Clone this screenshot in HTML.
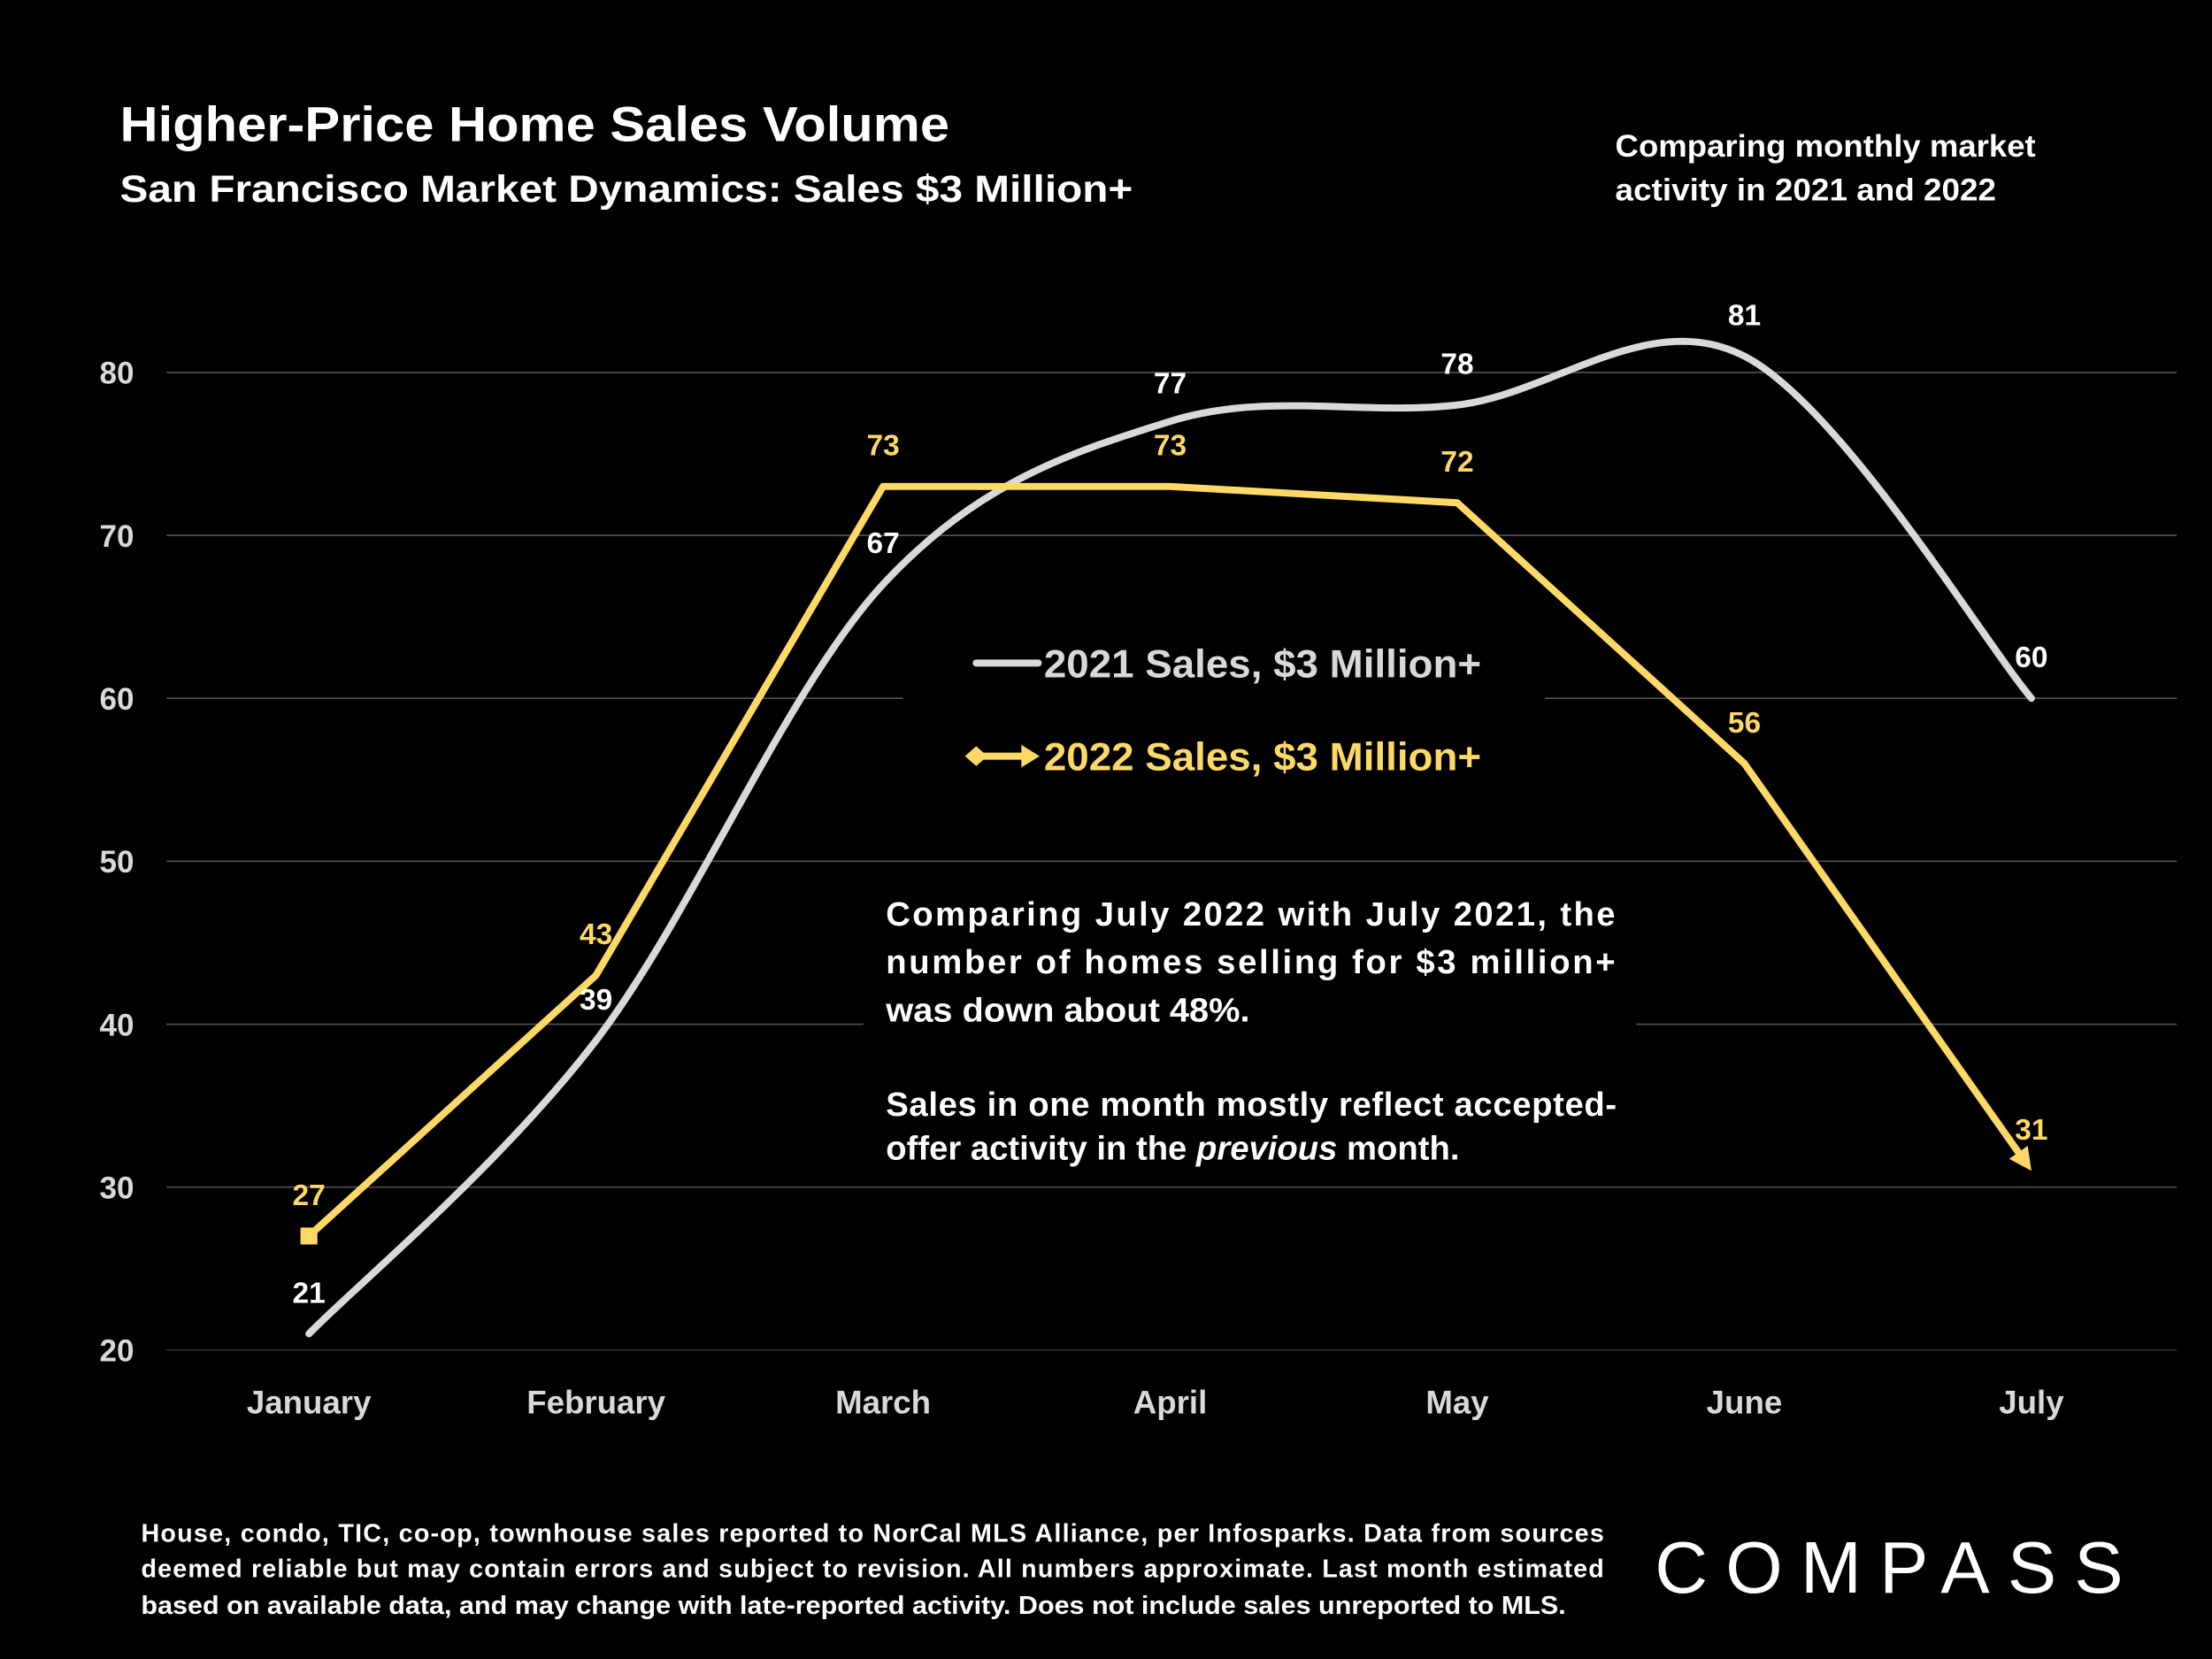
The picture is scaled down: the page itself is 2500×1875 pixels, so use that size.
<!DOCTYPE html>
<html><head><meta charset="utf-8"><style>
html,body{margin:0;padding:0;background:#000;}
svg{display:block;font-family:"Liberation Sans",Arial,sans-serif;}
</style></head><body>
<svg id="chart" width="2500" height="1875" viewBox="0 0 1568 1176" xmlns="http://www.w3.org/2000/svg">
<rect width="1568" height="1176" fill="#000"/>
<text x="85" y="100" fill="#fff" font-size="35" font-weight="bold" textLength="588" lengthAdjust="spacingAndGlyphs">Higher-Price Home Sales Volume</text>
<text x="85" y="143" fill="#fff" font-size="27" font-weight="bold" textLength="718" lengthAdjust="spacingAndGlyphs">San Francisco Market Dynamics: Sales $3 Million+</text>
<text fill="#fff" font-size="22" font-weight="bold"><tspan x="1145" y="111" textLength="298" lengthAdjust="spacingAndGlyphs">Comparing monthly market</tspan><tspan x="1145" y="142" textLength="270" lengthAdjust="spacingAndGlyphs">activity in 2021 and 2022</tspan></text>
<g id="grid"></g>
<g id="yticks"></g>
<g id="xticks"></g>
<g id="series"></g>
<g id="labels"></g>
<rect x="640" y="440" width="455" height="125" fill="#000"/>
<g>
<line x1="692" y1="470" x2="736" y2="470" stroke="#d9d9d9" stroke-width="5" stroke-linecap="round"/>
<text x="740" y="480" fill="#d9d9d9" font-size="28" font-weight="bold" textLength="310" lengthAdjust="spacingAndGlyphs">2021 Sales, $3 Million+</text>
</g>
<g>
<line x1="692" y1="536" x2="728" y2="536" stroke="#ffd966" stroke-width="5"/>
<polygon points="684,536 692,529 700,536 692,543" fill="#ffd966"/>
<polygon points="724,528 737,536 724,544" fill="#ffd966"/>
<text x="740" y="546" fill="#ffd966" font-size="28" font-weight="bold" textLength="310" lengthAdjust="spacingAndGlyphs">2022 Sales, $3 Million+</text>
</g>
<rect x="612" y="625" width="548" height="210" fill="#000"/>
<text fill="#fff" font-size="24" font-weight="bold">
<tspan x="628" y="656" textLength="517" lengthAdjust="spacing">Comparing July 2022 with July 2021, the</tspan>
<tspan x="628" y="690" textLength="517" lengthAdjust="spacing">number of homes selling for $3 million+</tspan>
<tspan x="628" y="724" textLength="258" lengthAdjust="spacingAndGlyphs">was down about 48%.</tspan>
<tspan x="628" y="791" textLength="518" lengthAdjust="spacing">Sales in one month mostly reflect accepted-</tspan>
<tspan x="628" y="822">offer activity in the <tspan font-style="italic">previous</tspan> month.</tspan>
</text>
<text fill="#fff" font-size="18" font-weight="bold">
<tspan x="100" y="1093" textLength="1037" lengthAdjust="spacing">House, condo, TIC, co-op, townhouse sales reported to NorCal MLS Alliance, per Infosparks. Data from sources</tspan>
<tspan x="100" y="1118" textLength="1037" lengthAdjust="spacing">deemed reliable but may contain errors and subject to revision. All numbers approximate. Last month estimated</tspan>
<tspan x="100" y="1144" textLength="1010" lengthAdjust="spacingAndGlyphs">based on available data, and may change with late-reported activity. Does not include sales unreported to MLS.</tspan>
</text>
<text x="1173" y="1129" fill="#fff" font-size="52" textLength="332" lengthAdjust="spacing">COMPASS</text>
</svg>
<script>
const months = ["January","February","March","April","May","June","July"];
const sales2021 = [21,39,67,77,78,81,60];
const sales2022 = [27,43,73,73,72,56,31];
const yTicks = [20,30,40,50,60,70,80];
const NS="http://www.w3.org/2000/svg";
const x0=219, xStep=(1440-219)/6, yBase=957, yPer=(957-264)/60;
function xs(i){return x0+i*xStep;}
function ys(v){return yBase-(v-20)*yPer;}
function mk(tag,attrs,parent){const e=document.createElementNS(NS,tag);for(const k in attrs)e.setAttribute(k,attrs[k]);parent.appendChild(e);return e;}
const grid=document.getElementById('grid'),yt=document.getElementById('yticks'),xt=document.getElementById('xticks'),ser=document.getElementById('series'),lab=document.getElementById('labels');
yTicks.forEach(v=>{
  const l=mk('line',{x1:118,x2:1543,y1:ys(v),y2:ys(v),stroke:v===20?'#333':'#555','stroke-width':1},grid);
  
  
  const t=mk('text',{x:95,y:ys(v)+8,'text-anchor':'end',fill:'#d9d9d9','font-size':22,'font-weight':'bold'},yt);
  t.textContent=v;
  
  
});
months.forEach((m,i)=>{
  const t=mk('text',{x:xs(i),y:1002,'text-anchor':'middle',fill:'#d9d9d9','font-size':23,'font-weight':'bold'},xt);
  t.textContent=m;
  
  
});
const p=sales2021.map((v,i)=>[xs(i),ys(v)]);
let d=`M${p[0][0]},${p[0][1]}`;
for(let i=0;i<p.length-1;i++){
  const a=p[Math.max(i-1,0)],b=p[i],c=p[i+1],e=p[Math.min(i+2,p.length-1)];
  const c1=[b[0]+(c[0]-a[0])/6,b[1]+(c[1]-a[1])/6],c2=[c[0]-(e[0]-b[0])/6,c[1]-(e[1]-b[1])/6];
  d+=` C${c1[0]},${c1[1]} ${c2[0]},${c2[1]} ${c[0]},${c[1]}`;
}
const l1=mk('path',{d:d,fill:'none',stroke:'#d9d9d9','stroke-width':5,'stroke-linecap':'round'},ser);


const p2=sales2022.map((v,i)=>[xs(i),ys(v)]);
const n=p2.length-1;
const dx=p2[n][0]-p2[n-1][0],dy=p2[n][1]-p2[n-1][1],len=Math.hypot(dx,dy),ux=dx/len,uy=dy/len;
const endPt=[p2[n][0]-ux*12,p2[n][1]-uy*12];
const pts=p2.slice(0,n).map(q=>q.join(',')).concat([endPt.join(',')]).join(' ');
const l2=mk('polyline',{points:pts,fill:'none',stroke:'#ffd966','stroke-width':5,'stroke-linejoin':'round'},ser);


const tip=p2[n],bx=tip[0]-ux*16,by=tip[1]-uy*16;
const ah=mk('polygon',{points:`${tip[0]},${tip[1]} ${bx-uy*8},${by+ux*8} ${bx+uy*8},${by-ux*8}`,fill:'#ffd966'},ser);


const sm=mk('rect',{x:p2[0][0]-6,y:p2[0][1]-6,width:12,height:12,fill:'#ffd966'},ser);


const off2021=[-22,-22,-22,-20,-22,-22,-22];
const off2022=[-22,-22,-22,-22,-22,-22,-22];
sales2021.forEach((v,i)=>{
  const t=mk('text',{x:xs(i),y:ys(v)+off2021[i],'text-anchor':'middle',fill:'#fff','font-size':21,'font-weight':'bold'},lab);
  t.textContent=v;
  
  
});
sales2022.forEach((v,i)=>{
  const t=mk('text',{x:xs(i),y:ys(v)+off2022[i],'text-anchor':'middle',fill:'#ffd966','font-size':21,'font-weight':'bold'},lab);
  t.textContent=v;
  
  
});
</script>
</body></html>
